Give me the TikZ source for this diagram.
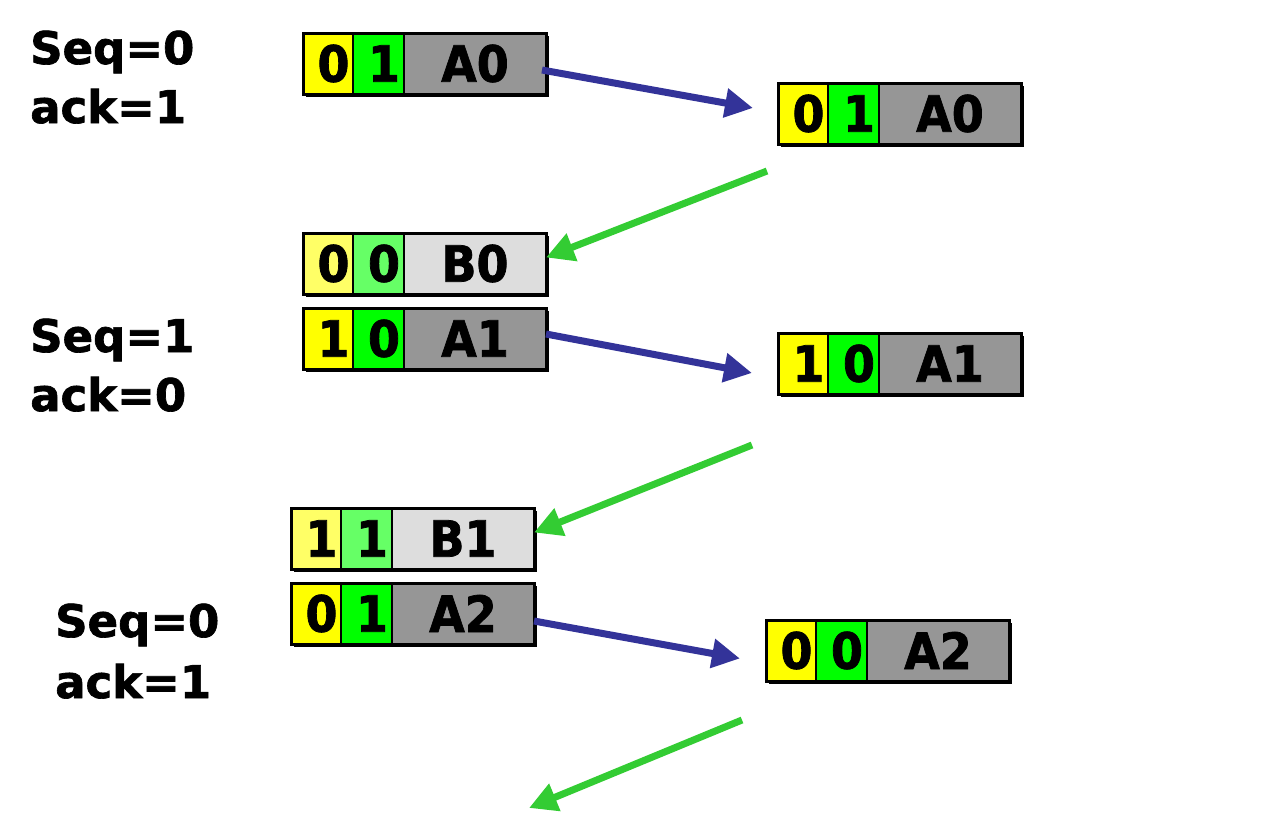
\documentclass[tikz,border=0pt]{standalone}
\usepackage{fontspec}
\setmainfont{DejaVu Sans}
\newfontfamily\pktfont{DejaVu Sans}[FakeStretch=0.92, BoldFeatures={FakeBold=1.5}]
\newfontfamily\lblfont{DejaVu Sans}[BoldFeatures={FakeBold=1.5}]
\usetikzlibrary{arrows.meta}
\definecolor{yeldark}{HTML}{FFFF00}
\definecolor{grndark}{HTML}{00FF00}
\definecolor{grydark}{HTML}{969696}
\definecolor{yellight}{HTML}{FFFF66}
\definecolor{grnlight}{HTML}{66FF66}
\definecolor{grylight}{HTML}{DDDDDD}
\definecolor{sendblue}{HTML}{333399}
\definecolor{ackgreen}{HTML}{33CC33}
\tikzset{
  cell/.style={draw=black, line width=2pt, inner sep=0pt, outer sep=0pt,
    minimum height=61pt, anchor=north west,
    font=\pktfont\bfseries\fontsize{50}{60}\selectfont},
  frame/.style={draw=black, line width=3pt},
  shadowbox/.style={fill=black},
  lbl/.style={anchor=base west, inner sep=0pt,
    font=\lblfont\bfseries\fontsize{45}{60}\selectfont},
  barrow/.style={draw=sendblue, line width=7pt, -{Triangle[length=28pt,width=28pt]}},
  garrow/.style={draw=ackgreen, line width=7pt, -{Triangle[length=28pt,width=28pt]}}
}
% name, x, y, digit1, digit2, label, variant
\newcommand\pkt[7]{%
  \fill[shadowbox] (#2+2.5,#3+2.5) rectangle ++(243,61);
  \node[cell, fill=yel#7, minimum width=50pt] (#1-a) at (#2,#3) {\kern11pt #4};
  \node[cell, fill=grn#7, minimum width=51pt] (#1-b) at (#1-a.north east) {\kern11pt #5};
  \node[cell, fill=gry#7, minimum width=142pt] (#1-c) at (#1-b.north east) {#6};
  \draw[frame] (#1-a.north west) rectangle (#1-c.south east);
}
\begin{document}
\begin{tikzpicture}[x=1pt, y=-1pt]
\useasboundingbox (0,0) rectangle (1274,836);

\pkt{p1}{303}{33}{0}{1}{A0}{dark}
\pkt{p2}{778}{83}{0}{1}{A0}{dark}
\pkt{p3}{303}{233}{0}{0}{B0}{light}
\pkt{p4}{303}{308}{1}{0}{A1}{dark}
\pkt{p5}{778}{333}{1}{0}{A1}{dark}
\pkt{p6}{291}{508}{1}{1}{B1}{light}
\pkt{p7}{291}{583}{0}{1}{A2}{dark}
\pkt{p8}{766}{620}{0}{0}{A2}{dark}

\node[lbl] (s1) at (30,64) {Seq=0};
\node[lbl] (k1) at (30,123) {ack=1};
\node[lbl] (s2) at (30,352) {Seq=1};
\node[lbl] (k2) at (30,411) {ack=0};
\node[lbl] (s3) at (55,637) {Seq=0};
\node[lbl] (k3) at (55,698) {ack=1};

\coordinate (lost) at (529,808);

\draw[barrow] ([shift={(-4,6.5)}]p1-c.east) -- ([shift={(-25,-5.5)}]p2-a.west);
\draw[garrow] ([shift={(-11,27)}]p2-a.south west) -- ([shift={(0,-6)}]p3-c.east);
\draw[barrow] ([shift={(0,-4.5)}]p4-c.east) -- ([shift={(-26,9.5)}]p5-a.west);
\draw[garrow] ([shift={(-26,51)}]p5-a.south west) -- ([shift={(0,-6)}]p6-c.east);
\draw[barrow] ([shift={(0,7.5)}]p7-c.east) -- ([shift={(-26,8)}]p8-a.west);
\draw[garrow] ([shift={(-24,39)}]p8-a.south west) -- (lost);
\end{tikzpicture}
\end{document}
